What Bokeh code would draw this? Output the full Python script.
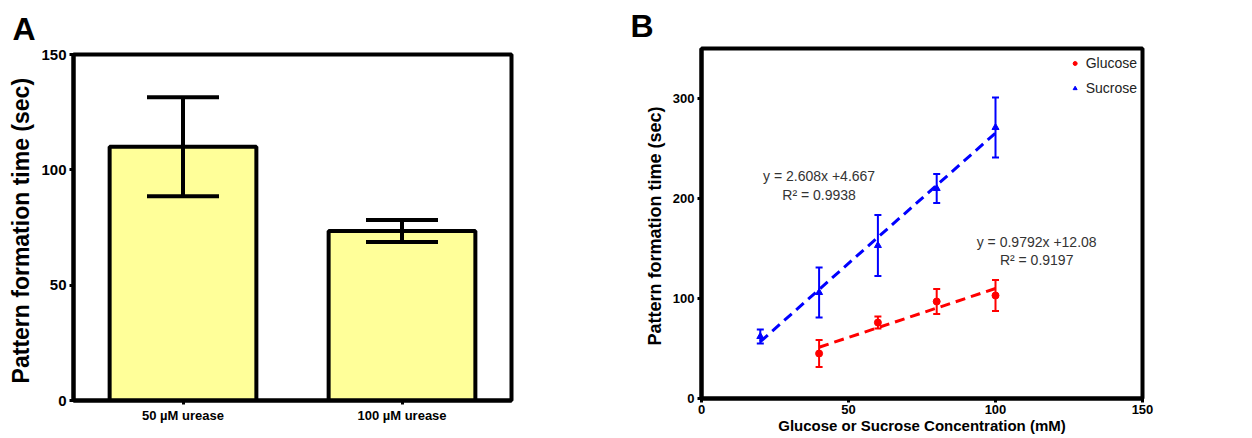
from bokeh.plotting import figure
from bokeh.models import (ColumnDataSource, FactorRange, Range1d, Whisker, TeeHead,
                          Label, Legend, LegendItem)
from bokeh.layouts import row
from bokeh.embed import file_html
from bokeh.resources import INLINE

FONT = "Liberation Sans"

# ---------------- Panel A data ----------------
urease_groups = ["50 µM urease", "100 µM urease"]
urease_time = [110.0, 73.5]
urease_err = [21.5, 4.8]
ticks_a_y = [0, 50, 100, 150]

# ---------------- Panel B data ----------------
conc_glucose = [40, 60, 80, 100]
time_glucose = [45, 76, 97, 103]
err_glucose = [13.5, 6, 12.5, 15.5]

conc_sucrose = [20, 40, 60, 80, 100]
time_sucrose = [62, 106, 153, 210, 271]
err_sucrose = [7, 25, 30.5, 14.5, 30]

series_names = ["Glucose", "Sucrose"]
fit_slope = [0.9792, 2.608]
fit_intercept = [12.08, 4.667]
fit_eq_text = ["y = 0.9792x +12.08", "y = 2.608x +4.667"]
fit_r2_text = ["R\u00b2 = 0.9197", "R\u00b2 = 0.9938"]

ticks_b_x = [0, 50, 100, 150]
ticks_b_y = [0, 100, 200, 300]


def style_axes(p, tick_size, title_size, ystandoff=6, xstandoff=2):
    for ax in (p.xaxis, p.yaxis):
        ax.axis_line_width = 4
        ax.axis_line_color = "black"
        ax.major_tick_out = 4
        ax.major_tick_in = 0
        ax.major_tick_line_width = 3
        ax.minor_tick_out = 0
        ax.minor_tick_in = 0
        ax.major_label_text_font = FONT
        ax.major_label_text_font_style = "bold"
        ax.major_label_text_color = "black"
        ax.major_label_text_font_size = tick_size
        ax.major_label_standoff = 3
        ax.axis_label_text_font = FONT
        ax.axis_label_text_font_style = "bold"
        ax.axis_label_text_color = "black"
        ax.axis_label_text_font_size = title_size
    p.yaxis.axis_label_standoff = ystandoff
    p.xaxis.axis_label_standoff = xstandoff
    p.xgrid.grid_line_color = None
    p.ygrid.grid_line_color = None
    p.outline_line_color = "black"
    p.outline_line_width = 4
    p.outline_line_alpha = 1


def panel_letter(p, letter, offset, standoff):
    p.title.text = letter
    p.title.align = "left"
    p.title.offset = offset
    p.title.standoff = standoff
    p.title.vertical_align = "bottom"
    p.title.text_font = FONT
    p.title.text_font_style = "bold"
    p.title.text_font_size = "32px"
    p.title.text_color = "black"


# ---------------- Panel A ----------------
pA = figure(x_range=FactorRange(*urease_groups), y_range=Range1d(0, 150),
            width=628, height=438, output_backend="svg", toolbar_location=None,
            min_border_left=73, min_border_right=117, min_border_top=54, min_border_bottom=38,
            background_fill_color="white", border_fill_color="white")
pA.frame_align = False

pA.vbar(x=urease_groups, top=urease_time, width=0.67, bottom=0,
        fill_color="#FFFF99", line_color="black", line_width=4)

a_upper = [m + e for m, e in zip(urease_time, urease_err)]
a_lower = [m - e for m, e in zip(urease_time, urease_err)]
pA.segment(x0=urease_groups, y0=a_lower, x1=urease_groups, y1=a_upper,
           line_color="black", line_width=4)
pA.scatter(x=urease_groups + urease_groups, y=a_upper + a_lower, marker="dash",
           size=72, line_color="black", line_width=4)

style_axes(pA, "15px", "23px", ystandoff=4)
pA.yaxis.ticker = ticks_a_y
pA.yaxis.axis_label = "Pattern formation time  (sec)"
pA.xaxis.major_label_text_font_size = "13px"
panel_letter(pA, "A", -61, 16)

# ---------------- Panel B ----------------
pB = figure(x_range=Range1d(0, 150), y_range=Range1d(0, 350),
            width=624, height=438, output_backend="svg", toolbar_location=None,
            min_border_left=73, min_border_right=110, min_border_top=48, min_border_bottom=40,
            background_fill_color="white", border_fill_color="white")
pB.frame_align = False

colors = ["#FF0000", "#0000FF"]
markers = ["circle", "triangle"]
xs_all = [conc_glucose, conc_sucrose]
ys_all = [time_glucose, time_sucrose]
es_all = [err_glucose, err_sucrose]

legend_items = []
for name, col, mk, xs, ys, es, sl, ic in zip(series_names, colors, markers, xs_all, ys_all,
                                             es_all, fit_slope, fit_intercept):
    fit_y = [sl * x + ic for x in xs]
    pB.line(x=xs, y=fit_y, line_color=col, line_width=3, line_dash="10 6")
    src = ColumnDataSource(dict(x=xs, upper=[y + e for y, e in zip(ys, es)],
                                lower=[y - e for y, e in zip(ys, es)]))
    w = Whisker(source=src, base="x", upper="upper", lower="lower",
                line_color=col, line_width=2,
                upper_head=TeeHead(size=7, line_color=col, line_width=2),
                lower_head=TeeHead(size=7, line_color=col, line_width=2))
    pB.add_layout(w)
    r = pB.scatter(x=xs, y=ys, marker=mk, size=7, fill_color=col, line_color=col)
    legend_items.append(LegendItem(label=name, renderers=[r]))

legend = Legend(items=legend_items, location="top_right", margin=3, padding=2,
                border_line_alpha=0, background_fill_alpha=0,
                label_text_font=FONT, label_text_font_size="14px", label_text_color="#222222",
                glyph_width=10, glyph_height=10, label_standoff=6, spacing=5, label_height=20)
pB.add_layout(legend)

eq_pos = [(114, 157, 139), (40, 223, 204)]
for (ex, ey1, ey2), eq, r2 in zip(eq_pos, fit_eq_text, fit_r2_text):
    pB.add_layout(Label(x=ex, y=ey1, text=eq, text_align="center", text_baseline="middle",
                        text_font=FONT, text_font_size="14px", text_color="#333333"))
    pB.add_layout(Label(x=ex, y=ey2, text=r2, text_align="center", text_baseline="middle",
                        text_font=FONT, text_font_size="14px", text_color="#333333"))

style_axes(pB, "13px", "15px", ystandoff=5, xstandoff=0)
pB.yaxis.axis_label_text_font_size = "18px"
pB.xaxis.ticker = ticks_b_x
pB.yaxis.ticker = ticks_b_y
pB.xaxis.axis_label = "Glucose or Sucrose Concentration (mM)"
pB.yaxis.axis_label = "Pattern formation time  (sec)"
pB.xaxis.major_label_standoff = 2
panel_letter(pB, "B", -71, 10)

layout = row(pA, pB)
open("out.html", "w").write(file_html(layout, INLINE))
